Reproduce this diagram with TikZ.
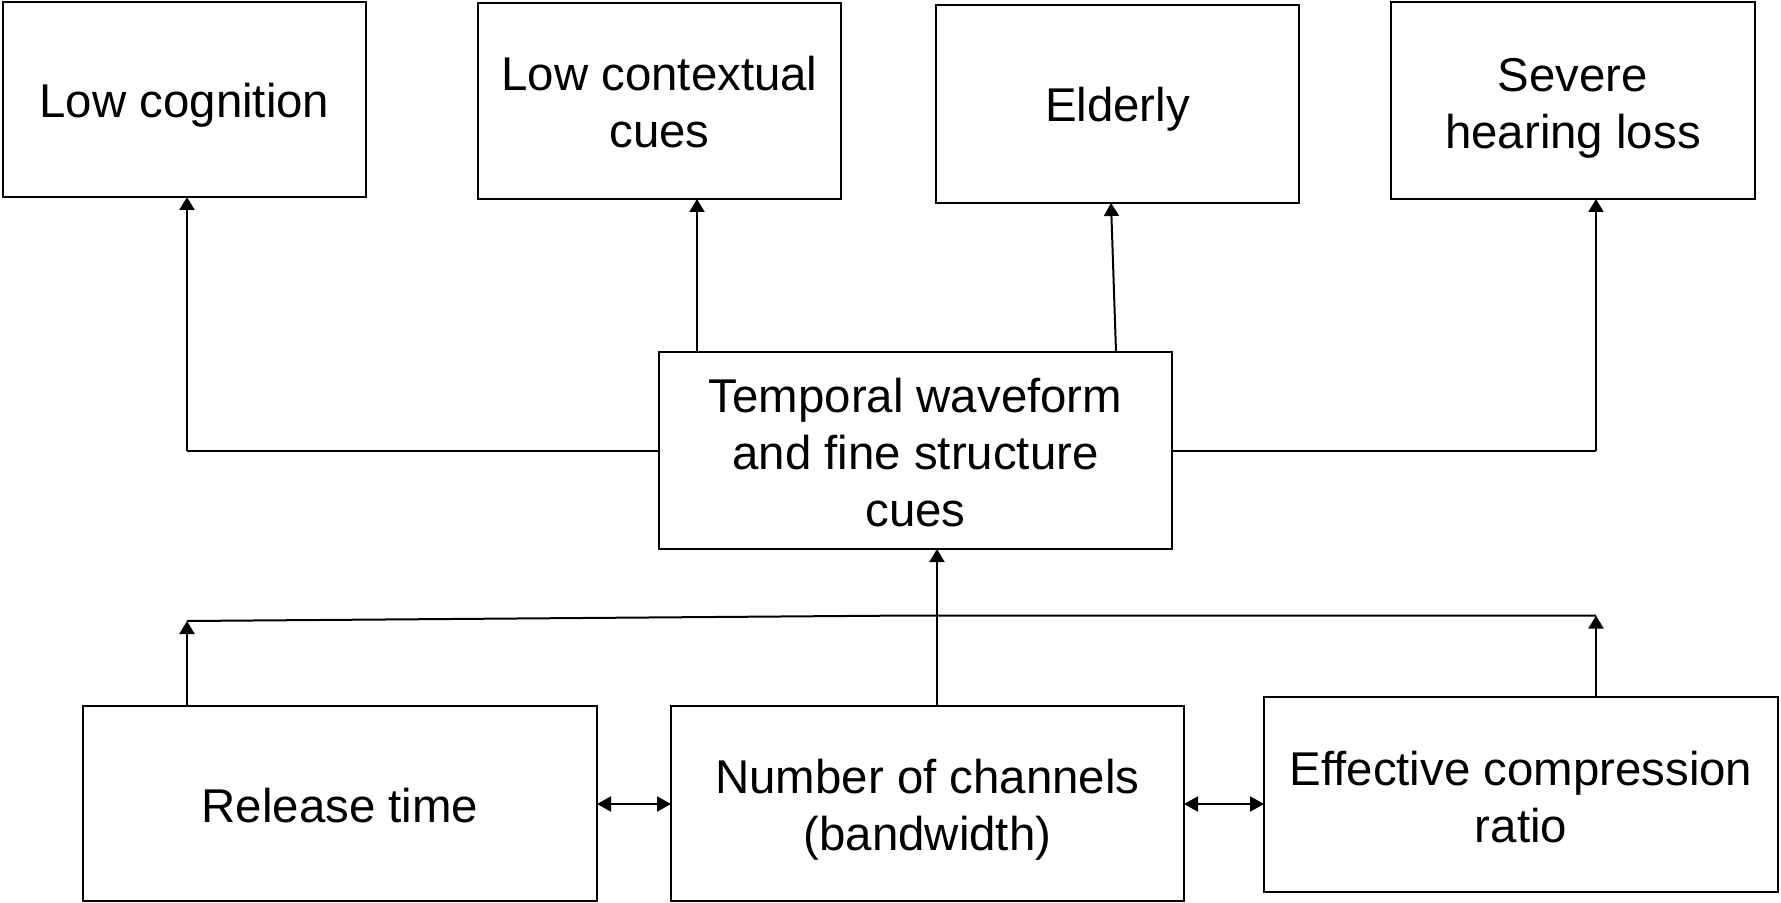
\documentclass[tikz,border=0pt]{standalone}
\usepackage{fontspec}
\setmainfont{Liberation Sans}
\usetikzlibrary{arrows.meta}
% invisible strut that lowers the first line of a box text
\newcommand{\drop}[1]{\rule{0pt}{#1}}
\begin{document}
\begin{tikzpicture}[x=0.5pt,y=-0.5pt,
  box/.style={draw, line width=1pt, inner sep=0pt, outer sep=0pt, align=center,
    font=\fontsize{23.7}{28.5}\selectfont},
  link/.style={line width=1pt},
  arr/.style={link, -{Triangle[length=6.5pt,width=7.5pt]}},
  darr/.style={link, {Triangle[length=7pt,width=7.5pt]}-{Triangle[length=7pt,width=7.5pt]}}]
\useasboundingbox (0,0) rectangle (1781,903);

% outcome boxes (top row)
\node[box, minimum width=181.5pt, minimum height=97.5pt] (lowcog) at (184.5,99.5) {\drop{23pt}Low cognition};
\node[box, minimum width=181.5pt, minimum height=98pt] (lowctx) at (659.5,101) {\drop{18.3pt}Low contextual\\cues};
\node[box, minimum width=181.5pt, minimum height=99pt] (elderly) at (1117.5,104) {\drop{22pt}Elderly};
\node[box, minimum width=182pt, minimum height=98.5pt] (severe) at (1573,100.5) {\drop{24pt}Severe\\hearing loss};

% central box
\node[box, minimum width=256.5pt, minimum height=98.5pt] (temp) at (915.5,450.5) {\drop{19.5pt}Temporal waveform\\and fine structure\\cues};

% parameter boxes (bottom row)
\node[box, minimum width=257pt, minimum height=97.5pt] (release) at (340,803.5) {\drop{19.5pt}Release time};
\node[box, minimum width=256.5pt, minimum height=97.5pt] (channels) at (927.5,803.5) {\drop{23pt}Number of channels\\(bandwidth)};
\node[box, minimum width=257pt, minimum height=97.5pt] (ratio) at (1521,794.5) {\drop{20pt}Effective compression\\ratio};

% branch points
\coordinate (tl) at (187,450.5);
\coordinate (tr) at (1596,450.5);
\coordinate (bl) at (187,621);
\coordinate (bm) at (912,615.5);
\coordinate (br) at (1596,615.5);

% central box to outcomes
\draw[link] (temp.west) -- (tl);
\draw[arr] (tl) -- (lowcog.south -| tl);
\draw[link] (temp.east) -- (tr);
\draw[arr] (tr) -- (severe.south -| tr);
\draw[arr] (temp.north -| 697,0) -- (lowctx.south -| 697,0);
\draw[arr] (1116,352) -- (1111,203);

% parameters to central box
\draw[link] (bl) -- (bm) -- (br);
\draw[arr] (release.north -| bl) -- (bl);
\draw[arr] (ratio.north -| br) -- (br);
\draw[arr] (channels.north -| 937,0) -- (temp.south -| 937,0);

% interactions between parameters
\draw[darr] (release.east |- 0,804) -- (channels.west |- 0,804);
\draw[darr] (channels.east |- 0,804) -- (ratio.west |- 0,804);
\end{tikzpicture}
\end{document}
